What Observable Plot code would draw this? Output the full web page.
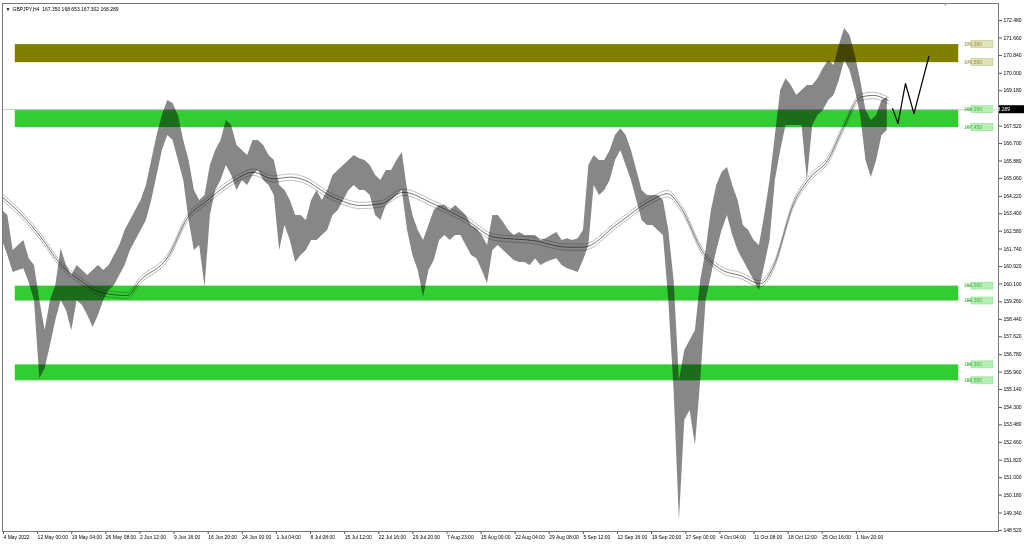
<!DOCTYPE html>
<html><head><meta charset="utf-8">
<script src="https://cdn.jsdelivr.net/npm/d3@7"></script>
<script src="https://cdn.jsdelivr.net/npm/@observablehq/plot@0.6"></script>
<style>body{margin:0;background:#fff;} svg{display:block}</style>
</head><body><div id="chart"></div>
<script>
const symbolTitle = "GBPJPY,H4  167.350 168.653 167.302 168.289";
const lastPrice = 168.289;
const barStep = 5;
const highs = [
163.55,163.32,161.67,161.91,162.14,161.29,160.97,159.32,157.91,159.32,
160.03,161.76,160.97,160.50,160.97,160.73,160.50,160.73,160.97,160.73,
160.97,161.44,161.91,162.61,163.08,163.55,164.02,164.73,165.90,167.08,
168.02,168.72,168.58,168.02,166.84,165.90,164.49,164.02,164.26,165.67,
166.37,166.84,167.78,167.55,166.61,166.37,166.14,166.84,166.84,166.61,
166.14,165.90,164.73,164.49,164.02,163.32,163.32,163.08,164.02,164.49,
164.02,164.49,165.20,165.43,165.67,165.90,166.14,165.99,165.90,165.67,
165.20,164.96,165.43,165.43,165.90,166.28,164.49,163.32,162.61,162.14,
162.85,163.55,163.79,163.79,163.55,163.79,163.55,163.32,162.85,162.70,
162.38,161.91,163.32,163.32,162.99,162.61,162.38,162.52,162.38,162.38,
162.38,162.14,162.23,162.38,162.52,162.14,162.23,162.14,162.23,162.61,
165.67,166.14,165.90,165.90,166.37,167.08,167.40,167.08,166.37,165.43,
164.49,164.26,164.26,164.26,164.02,162.61,160.26,155.56,156.97,157.44,
157.91,160.26,161.67,163.55,164.73,165.34,165.57,164.73,164.02,162.85,
162.61,162.14,161.91,163.32,164.96,167.08,169.19,169.75,169.43,168.96,
169.19,169.43,169.43,169.75,170.22,170.60,170.37,171.31,172.10,171.78,
170.84,169.66,168.25,167.78,168.02,168.72,168.86];
const lows = [
162.14,161.44,160.64,160.73,160.82,160.17,159.32,155.65,156.12,157.21,
158.38,159.32,158.85,157.91,159.32,159.09,158.62,158.05,158.62,159.32,
159.79,160.03,160.50,160.97,161.67,162.14,162.61,163.08,164.02,165.20,
166.37,167.08,166.84,165.90,164.96,163.08,161.67,161.91,159.93,163.32,
164.49,164.96,165.67,165.20,164.49,164.96,164.73,165.20,165.43,164.96,
164.73,164.26,161.67,162.85,162.14,161.11,161.44,161.67,162.14,162.14,
162.38,162.61,163.32,163.55,164.02,164.49,164.73,164.49,164.49,164.26,
163.32,163.08,163.79,164.02,164.26,164.49,162.61,161.44,160.73,159.46,
160.73,161.20,162.14,162.38,162.14,162.38,162.38,161.91,161.44,161.29,
160.73,160.12,161.67,161.91,161.67,161.44,161.20,161.11,161.11,160.97,
161.29,160.97,161.11,161.20,161.29,160.97,160.82,160.73,160.64,161.20,
161.91,164.73,164.26,164.49,164.96,165.90,166.37,165.67,164.96,164.02,
163.08,162.85,162.85,162.61,162.38,159.32,155.09,148.98,153.68,154.15,
152.51,155.56,159.32,160.50,161.67,162.61,163.32,162.38,161.67,161.20,
160.73,160.26,159.79,160.97,162.14,164.96,166.37,167.55,167.55,167.55,
167.55,164.96,167.55,168.02,168.25,168.72,168.96,169.66,170.60,170.13,
169.19,168.02,165.90,165.10,165.90,167.08,167.31];
const maIdx = [0,17,36,54,73,92,117,129,155,174,192,217,235,254,270,280,310,336,355,376,404,436,461,498,530,545,577,608,624,636,658,676,692,711,723,742,758,774,789,805,817,831];
const maVal = [164.18,163.40,162.30,161.05,160.26,159.71,159.56,160.26,161.36,163.24,164.02,164.96,165.35,165.04,165.12,165.04,164.18,163.79,163.87,164.41,163.87,163.08,162.30,162.14,161.83,161.83,162.93,164.02,164.34,163.71,161.52,160.73,160.50,160.11,160.89,163.87,165.12,165.90,167.47,168.88,168.96,168.72];
const envelopePct = 0.09;
const projIdx = [835,840,847,855,869];
const projVal = [168.34,167.64,169.52,168.11,170.79];
const zoneLow = [170.5,167.45,159.3,155.55];
const zoneHigh = [171.35,168.29,160.0,156.3];
const zoneColor = ["#808000","#32cd32","#32cd32","#32cd32"];
const zoneStart = 12, zoneEnd = 897;
const yTicks = [172.48,171.66,170.84,170.0,169.18,167.52,166.7,165.88,165.06,164.22,163.4,162.58,161.74,160.92,160.1,159.26,158.44,157.62,156.78,155.96,155.14,154.3,153.48,152.66,151.82,151.0,150.18,149.34,148.52];
const dateLabels = ["4 May 2022","12 May 00:00","19 May 04:00","26 May 08:00","2 Jun 12:00","9 Jun 16:00","16 Jun 20:00","24 Jun 00:00","1 Jul 04:00","8 Jul 08:00","15 Jul 12:00","22 Jul 16:00","29 Jul 20:00","7 Aug 23:00","15 Aug 00:00","22 Aug 04:00","29 Aug 08:00","5 Sep 12:00","12 Sep 16:00","19 Sep 20:00","27 Sep 00:00","4 Oct 04:00","11 Oct 08:00","18 Oct 12:00","25 Oct 16:00","1 Nov 20:00"];
const dateStep = 32;

const bars = highs.map((h,i)=>({i:i*barStep, hi:h, lo:lows[i]}));
const ma = maIdx.map((x,i)=>({i:x, v:maVal[i]}));
const proj = projIdx.map((x,i)=>({i:x, v:projVal[i]}));
const zones = zoneLow.map((l,i)=>({x1:zoneStart,x2:zoneEnd,y1:l,y2:zoneHigh[i],c:zoneColor[i]}));
const dateTicks = dateLabels.map((_,i)=>i*dateStep);
const FONT = "'Liberation Sans', Arial, sans-serif";

const chart = Plot.plot({
  width:1024, height:544, marginLeft:2, marginRight:26, marginTop:3, marginBottom:13,
  x:{domain:[0,934.3], axis:null},
  y:{domain:[148.47,173.28], axis:null},
  style:{fontFamily:FONT, fontSize:"5px", background:"#fff", color:"#000"},
  marks:[
    Plot.rect(zones,{x1:"x1",x2:"x2",y1:"y1",y2:"y2",fill:d=>d.c}),
    Plot.ruleY([lastPrice],{stroke:"#c8c8c8",strokeWidth:1}),
    Plot.areaY(bars,{x:"i",y1:"lo",y2:"hi",fill:"#878787",mixBlendMode:"multiply"}),
    Plot.line(ma,{x:"i",y:d=>d.v*(1+envelopePct/100),stroke:"#a0a0a0",strokeWidth:0.8,strokeDasharray:"1,1",curve:"monotone-x",mixBlendMode:"multiply"}),
    Plot.line(ma,{x:"i",y:d=>d.v*(1-envelopePct/100),stroke:"#a0a0a0",strokeWidth:0.8,strokeDasharray:"1,1",curve:"monotone-x",mixBlendMode:"multiply"}),
    Plot.line(ma,{x:"i",y:"v",stroke:"#505050",strokeWidth:0.8,curve:"monotone-x",mixBlendMode:"multiply"}),
    Plot.line(proj,{x:"i",y:"v",stroke:"#000",strokeWidth:1.2}),
    Plot.axisY(yTicks,{anchor:"right",tickSize:3,tickPadding:2,tickFormat:d3.format(".3f"),fontSize:5,stroke:"#555"}),
    Plot.axisX(dateTicks,{anchor:"bottom",tickSize:3,tickPadding:1,tickFormat:d=>dateLabels[Math.round(d/dateStep)],textAnchor:"start",dx:1,fontSize:5,stroke:"#555"}),
    Plot.text([symbolTitle],{frameAnchor:"top-left",dx:10,dy:4,textAnchor:"start",fontSize:5,fill:"#000"}),
    Plot.text(["▼"],{frameAnchor:"top-left",dx:3,dy:4,textAnchor:"start",fontSize:5,fill:"#000"}),
    Plot.frame({stroke:"#777",strokeWidth:1})
  ]
});
document.getElementById("chart").appendChild(chart);

// zone price labels + current price label, placed through the plot's scales
const xs = chart.scale("x"), ys = chart.scale("y");
const xRight = xs.range[1];
const g = d3.select(chart).append("g").attr("font-family", FONT).attr("font-size", 5);
const labelStyle = [
  {fill:"#e2e2b8", stroke:"#c2c28a", text:"#8c8c48", lead:"#b8b870"},
  {fill:"#b6efb6", stroke:"#90e090", text:"#44b044", lead:"#70d070"}
];
zoneLow.forEach((l,i)=>{
  const st = labelStyle[i===0?0:1];
  [zoneHigh[i], l].forEach(v=>{
    const yy = ys.apply(v);
    g.append("line").attr("x1",xRight-32).attr("x2",xRight-27).attr("y1",yy).attr("y2",yy).attr("stroke",st.lead).attr("stroke-width",1);
    g.append("rect").attr("x",xRight-27).attr("y",yy-3.5).attr("width",22).attr("height",7).attr("fill",st.fill).attr("stroke",st.stroke).attr("stroke-width",0.6);
    g.append("text").attr("x",xRight-25).attr("y",yy).attr("dy","0.35em").attr("fill",st.text).text(d3.format(".3f")(v));
  });
});
const yp = ys.apply(lastPrice);
g.append("rect").attr("x",xRight+1).attr("y",yp-4).attr("width",25).attr("height",8).attr("fill","#000");
g.append("text").attr("x",xRight+3).attr("y",yp).attr("dy","0.35em").attr("fill","#fff").text(d3.format(".3f")(lastPrice));
g.append("text").attr("x",xs.apply(zoneEnd - 12)).attr("y",6).attr("text-anchor","middle").attr("fill","#999").attr("font-size",5).text("▼");
</script>
</body></html>
